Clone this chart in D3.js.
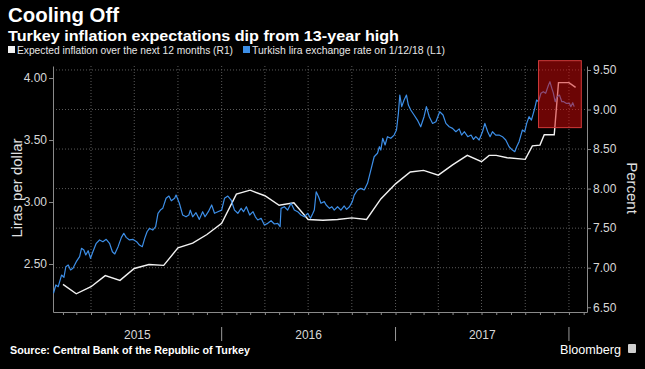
<!DOCTYPE html>
<html lang="en">
<head>
<meta charset="UTF-8">
<title>Cooling Off</title>
<script src="https://d3js.org/d3.v7.min.js"></script>
<style>
    body { margin: 0; background: #000; }
    svg { display: block; font-family: "Liberation Sans", Arial, sans-serif; }
    .grid line { stroke: #5a5a5a; stroke-dasharray: 1,2; }
    .axis path, .axis line { stroke: #8a8a8a; }
    .axis text { fill: #d8d8d8; font-size: 12px; }
</style>
</head>
<body>
<svg id="chart" width="645" height="369"></svg>
<script>
// expected inflation over the next 12 months (right axis, percent)
var inflationDates = ["2015-02-01","2015-03-01","2015-04-01","2015-05-01","2015-06-01","2015-07-01","2015-08-01","2015-09-01",
    "2015-10-01","2015-11-01","2015-12-01","2016-01-01","2016-02-01","2016-03-01","2016-04-01","2016-05-01","2016-06-01",
    "2016-07-01","2016-08-01","2016-09-01","2016-10-01","2016-11-01","2016-12-01","2017-01-01","2017-02-01","2017-03-01",
    "2017-04-01","2017-05-01","2017-06-01","2017-07-01","2017-07-17","2017-08-01","2017-08-24","2017-10-01","2017-10-16",
    "2017-11-01","2017-11-10","2017-12-01","2017-12-10","2018-01-01","2018-01-15"];
var inflationValues = [6.79,6.67,6.76,6.90,6.84,6.99,7.04,7.03,
    7.25,7.31,7.42,7.56,7.93,7.98,7.91,7.79,7.82,
    7.61,7.60,7.61,7.63,7.61,7.87,8.06,8.21,8.23,
    8.17,8.30,8.42,8.34,8.42,8.42,8.39,8.37,8.54,
    8.55,8.68,8.68,9.34,9.34,9.28];

// USD/TRY (left axis, liras per dollar)
var liraDates = ["2015-01-12","2015-01-17","2015-01-22","2015-01-29","2015-02-03","2015-02-07","2015-02-12","2015-02-17",
    "2015-02-22","2015-03-01","2015-03-08","2015-03-12","2015-03-17","2015-03-21","2015-03-26","2015-03-31","2015-04-05",
    "2015-04-12","2015-04-19","2015-04-26","2015-05-03","2015-05-10","2015-05-16","2015-05-21","2015-05-28","2015-06-04",
    "2015-06-09","2015-06-14","2015-06-21","2015-06-28","2015-07-06","2015-07-12","2015-07-18","2015-07-23","2015-07-28",
    "2015-08-02","2015-08-09","2015-08-15","2015-08-20","2015-08-25","2015-08-30","2015-09-06","2015-09-12","2015-09-17",
    "2015-09-24","2015-09-27","2015-10-04","2015-10-11","2015-10-18","2015-10-24","2015-10-27","2015-11-01","2015-11-08",
    "2015-11-15","2015-11-22","2015-11-27","2015-12-04","2015-12-11","2015-12-17","2015-12-24","2016-01-01","2016-01-07",
    "2016-01-14","2016-01-21","2016-01-28","2016-02-04","2016-02-11","2016-02-16","2016-02-22","2016-02-29","2016-03-07",
    "2016-03-12","2016-03-17","2016-03-24","2016-03-31","2016-04-07","2016-04-14","2016-04-21","2016-04-28","2016-05-03",
    "2016-05-05","2016-05-12","2016-05-19","2016-05-26","2016-06-02","2016-06-09","2016-06-16","2016-06-23","2016-06-30",
    "2016-07-06","2016-07-11","2016-07-14","2016-07-18","2016-07-23","2016-07-28","2016-08-04","2016-08-08","2016-08-15",
    "2016-08-20","2016-08-25","2016-09-01","2016-09-08","2016-09-15","2016-09-20","2016-09-26","2016-10-02","2016-10-06",
    "2016-10-13","2016-10-20","2016-10-27","2016-11-03","2016-11-10","2016-11-17","2016-11-24","2016-11-28","2016-12-01",
    "2016-12-05","2016-12-10","2016-12-15","2016-12-22","2016-12-29","2017-01-03","2017-01-07","2017-01-10","2017-01-14",
    "2017-01-19","2017-01-24","2017-01-28","2017-02-02","2017-02-09","2017-02-16","2017-02-23","2017-03-02","2017-03-07",
    "2017-03-13","2017-03-20","2017-03-27","2017-04-04","2017-04-11","2017-04-17","2017-04-24","2017-05-01","2017-05-08",
    "2017-05-15","2017-05-20","2017-05-26","2017-06-02","2017-06-09","2017-06-14","2017-06-19","2017-06-26","2017-07-03",
    "2017-07-08","2017-07-14","2017-07-19","2017-07-24","2017-07-31","2017-08-07","2017-08-14","2017-08-21","2017-08-28",
    "2017-09-04","2017-09-09","2017-09-13","2017-09-18","2017-09-25","2017-09-30","2017-10-04","2017-10-09","2017-10-14",
    "2017-10-18","2017-10-21","2017-10-25","2017-10-29","2017-11-03","2017-11-08","2017-11-13","2017-11-19","2017-11-22",
    "2017-11-26","2017-11-29","2017-12-03","2017-12-07","2017-12-12","2017-12-17","2017-12-21","2017-12-26","2018-01-02",
    "2018-01-05","2018-01-09","2018-01-12"];
var liraValues = [2.264,2.331,2.317,2.411,2.393,2.478,2.492,2.452,
    2.465,2.519,2.559,2.627,2.613,2.573,2.607,2.546,2.599,
    2.667,2.694,2.680,2.699,2.667,2.599,2.581,2.640,2.715,
    2.748,2.715,2.694,2.699,2.680,2.653,2.640,2.707,2.760,
    2.788,2.774,2.801,2.909,2.935,2.949,3.030,3.048,3.010,
    3.030,3.056,2.990,2.895,2.881,2.895,2.935,2.881,2.914,
    2.860,2.922,2.881,2.922,2.976,2.909,2.922,2.935,3.030,
    3.048,3.016,2.935,2.909,2.949,2.922,2.962,2.895,2.922,
    2.881,2.855,2.869,2.815,2.828,2.849,2.823,2.828,2.801,
    2.949,2.962,2.935,2.990,2.935,2.922,2.895,2.881,2.909,
    2.869,2.909,2.935,3.083,3.043,2.990,3.003,2.976,2.949,
    2.962,2.935,2.962,2.935,2.968,2.941,2.962,3.003,3.056,
    3.097,3.110,3.097,3.151,3.258,3.365,3.393,3.446,3.419,
    3.514,3.460,3.527,3.514,3.540,3.581,3.715,3.863,3.769,
    3.823,3.863,3.782,3.742,3.702,3.661,3.607,3.688,3.769,
    3.688,3.634,3.648,3.728,3.702,3.634,3.607,3.594,3.567,
    3.590,3.540,3.567,3.527,3.540,3.505,3.527,3.500,3.567,
    3.634,3.567,3.527,3.567,3.540,3.540,3.527,3.500,3.446,
    3.419,3.406,3.446,3.487,3.581,3.567,3.634,3.688,3.661,
    3.715,3.756,3.823,3.809,3.877,3.890,3.877,3.944,3.970,
    3.917,3.882,3.809,3.849,3.863,3.809,3.809,3.796,3.796,
    3.769,3.801,3.769];

var leftTicks = [2.5, 3.0, 3.5, 4.0];
var rightTicks = [6.5, 7.0, 7.5, 8.0, 8.5, 9.0, 9.5];
var yearLabels = ["2015", "2016", "2017"];
var yearBreaks = ["2016-01-01", "2017-01-01", "2018-01-01"];
// highlighted box (dates / left-axis values)
var highlightDates = ["2017-10-29", "2018-01-27"];
var highlightValues = [3.60, 4.14];

var configuration = {
    "left": 53,
    "right": 587,
    "top": 66,
    "bottom": 312,
    "blue": "#3d8fe8",
    "white": "#f2f2f2"
};

var parse = d3.timeParse("%Y-%m-%d");
var inflation = inflationDates.map(function(d, i){ return {date: parse(d), value: inflationValues[i]}; });
var lira = liraDates.map(function(d, i){ return {date: parse(d), value: liraValues[i]}; });

var svg = d3.select("#chart");
svg.append("rect").attr("width", 645).attr("height", 369).attr("fill", "#000");

var xScale = d3.scaleTime()
        .domain([parse("2015-01-11"), parse("2018-02-08")])
        .range([configuration.left, configuration.right]);
var yLeft = d3.scaleLinear()
        .domain([2.113, 4.097])
        .range([configuration.bottom, configuration.top]);
var yRight = d3.scaleLinear()
        .domain([6.44, 9.55])
        .range([configuration.bottom, configuration.top]);

// titles
svg.append("text").text("Cooling Off")
        .attr("x", 8).attr("y", 22)
        .attr("fill", "#fff").attr("font-size", 21).attr("font-weight", "bold")
        .attr("textLength", 111).attr("lengthAdjust", "spacingAndGlyphs");
svg.append("text").text("Turkey inflation expectations dip from 13-year high")
        .attr("x", 8).attr("y", 41)
        .attr("fill", "#fff").attr("font-size", 15).attr("font-weight", "bold")
        .attr("textLength", 391).attr("lengthAdjust", "spacingAndGlyphs");

// legend
var legend = svg.append("g").attr("transform", "translate(8,50)");
legend.append("rect").attr("x", 0).attr("y", -4).attr("width", 7).attr("height", 7).attr("fill", configuration.white);
legend.append("text").text("Expected inflation over the next 12 months (R1)")
        .attr("x", 9).attr("y", 3.5).attr("fill", "#e6e6e6").attr("font-size", 10)
        .attr("textLength", 216).attr("lengthAdjust", "spacingAndGlyphs");
legend.append("rect").attr("x", 235).attr("y", -4).attr("width", 7).attr("height", 7).attr("fill", configuration.blue);
legend.append("text").text("Turkish lira exchange rate on 1/12/18 (L1)")
        .attr("x", 244).attr("y", 3.5).attr("fill", "#e6e6e6").attr("font-size", 10)
        .attr("textLength", 193).attr("lengthAdjust", "spacingAndGlyphs");

// grid
var grid = svg.append("g").attr("class", "grid");
grid.selectAll("line.h").data(rightTicks.slice(1)).enter().append("line")
        .attr("x1", configuration.left).attr("x2", configuration.right)
        .attr("y1", function(d){ return yRight(d); }).attr("y2", function(d){ return yRight(d); });
var quarters = d3.timeMonth.every(3).range(xScale.domain()[0], xScale.domain()[1]);
grid.selectAll("line.v").data(quarters).enter().append("line")
        .attr("x1", function(d){ return xScale(d); }).attr("x2", function(d){ return xScale(d); })
        .attr("y1", configuration.top).attr("y2", configuration.bottom);

// axes
var leftAxis = svg.append("g").attr("class", "axis")
        .attr("transform", "translate(" + configuration.left + ",0)")
        .call(d3.axisLeft(yLeft).tickValues(leftTicks).tickFormat(d3.format(".2f")).tickSize(4).tickSizeOuter(0).tickPadding(2));
var rightAxis = svg.append("g").attr("class", "axis")
        .attr("transform", "translate(" + configuration.right + ",0)")
        .call(d3.axisRight(yRight).tickValues(rightTicks).tickFormat(d3.format(".2f")).tickSize(4).tickSizeOuter(0).tickPadding(2));
rightAxis.select("path").attr("stroke", "#cfcfcf");
rightAxis.selectAll("line").attr("stroke", "#cfcfcf");

var xAxis = svg.append("g").attr("class", "axis")
        .attr("transform", "translate(0," + configuration.bottom + ")")
        .call(d3.axisBottom(xScale).ticks(d3.timeMonth.every(1)).tickFormat("").tickSize(3).tickSizeOuter(0));

// year separators and labels
var breaks = yearBreaks.map(parse);
svg.selectAll("line.year").data(breaks).enter().append("line")
        .attr("x1", function(d){ return xScale(d); }).attr("x2", function(d){ return xScale(d); })
        .attr("y1", 327).attr("y2", 341)
        .attr("stroke", "#9a9a9a");
var yearEdges = [xScale.domain()[0]].concat(breaks);
svg.selectAll("text.year").data(yearLabels).enter().append("text")
        .text(function(d){ return d; })
        .attr("x", function(d, i){ return (xScale(yearEdges[i]) + xScale(yearEdges[i + 1])) / 2; })
        .attr("y", 339)
        .attr("text-anchor", "middle").attr("fill", "#d8d8d8").attr("font-size", 12);

// axis titles
svg.append("text").text("Liras per dollar")
        .attr("transform", "translate(22,188) rotate(-90)")
        .attr("text-anchor", "middle").attr("fill", "#e0e0e0").attr("font-size", 15);
svg.append("text").text("Percent")
        .attr("transform", "translate(627,188) rotate(90)")
        .attr("text-anchor", "middle").attr("fill", "#e0e0e0").attr("font-size", 15);

// lines
var lineRight = d3.line()
        .x(function(d){ return xScale(d.date); })
        .y(function(d){ return yRight(d.value); });
var lineLeft = d3.line()
        .x(function(d){ return xScale(d.date); })
        .y(function(d){ return yLeft(d.value); });

svg.append("path").datum(inflation)
        .attr("fill", "none").attr("stroke", configuration.white).attr("stroke-width", 1.4)
        .attr("d", lineRight);
svg.append("path").datum(lira)
        .attr("fill", "none").attr("stroke", configuration.blue).attr("stroke-width", 1.2)
        .attr("stroke-linejoin", "round")
        .attr("d", lineLeft);

// highlight box
var hx0 = xScale(parse(highlightDates[0])), hx1 = xScale(parse(highlightDates[1]));
var hy0 = yLeft(highlightValues[1]), hy1 = yLeft(highlightValues[0]);
svg.append("rect")
        .attr("x", hx0).attr("y", hy0)
        .attr("width", hx1 - hx0).attr("height", hy1 - hy0)
        .attr("fill", "rgb(215,10,10)").attr("fill-opacity", 0.5)
        .attr("stroke", "#d23a3a").attr("stroke-width", 1);

// footer
svg.append("text").text("Source: Central Bank of the Republic of Turkey")
        .attr("x", 10).attr("y", 354)
        .attr("fill", "#fff").attr("font-size", 11).attr("font-weight", "bold")
        .attr("textLength", 240).attr("lengthAdjust", "spacingAndGlyphs");
svg.append("text").text("Bloomberg")
        .attr("x", 560).attr("y", 354)
        .attr("fill", "#fff").attr("font-size", 13)
        .attr("textLength", 61).attr("lengthAdjust", "spacingAndGlyphs");
svg.append("rect").attr("x", 628).attr("y", 344).attr("width", 8).attr("height", 9)
        .attr("fill", "#cfcfcf").attr("rx", 1);
</script>
</body>
</html>
